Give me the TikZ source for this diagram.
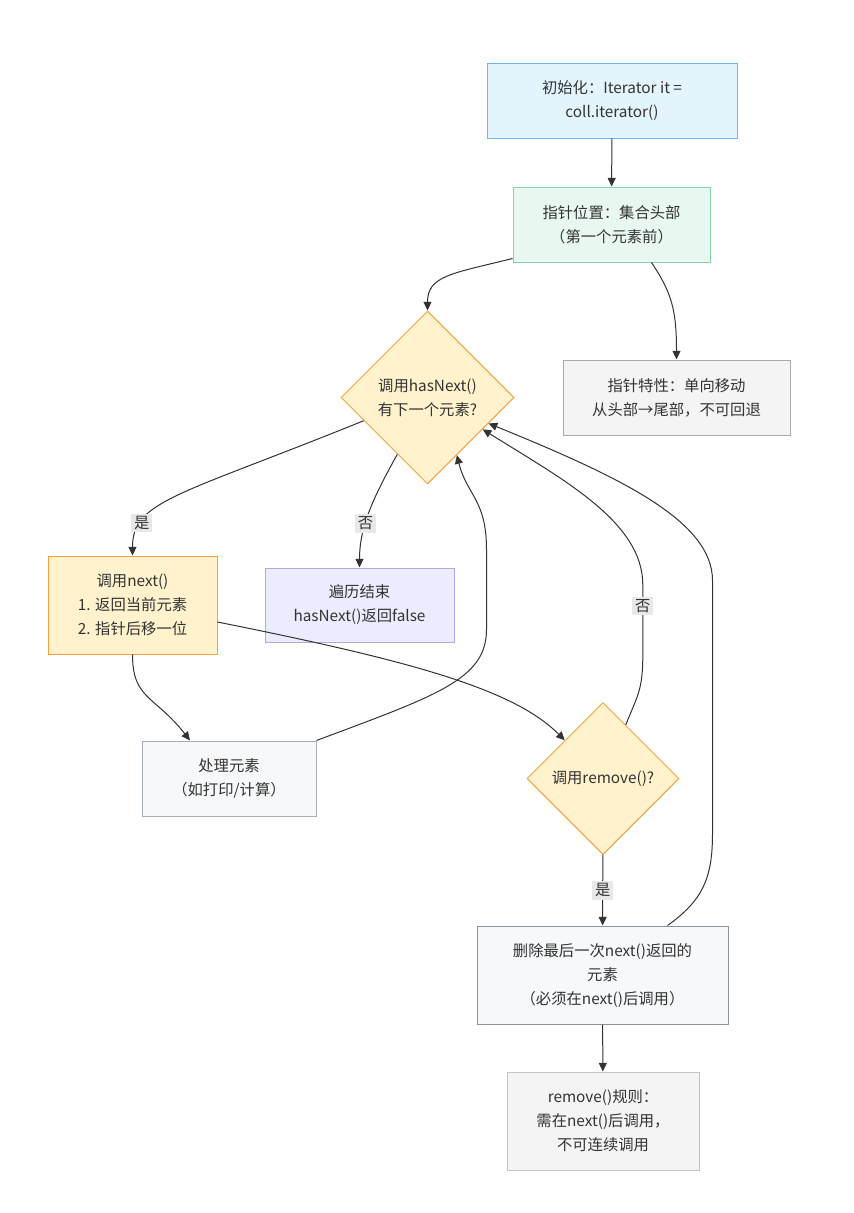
\documentclass[tikz,border=0pt]{standalone}
\usepackage{fontspec}
\setmainfont{Noto Sans CJK SC}
\usetikzlibrary{shapes.geometric,arrows.meta}

\newdimen\pxu \pxu=0.75pt
\definecolor{txt}{HTML}{333333}
\definecolor{edge}{HTML}{333333}
\definecolor{initfill}{HTML}{E3F4FD}
\definecolor{initline}{HTML}{6CB8EE}
\definecolor{posfill}{HTML}{E8F8F0}
\definecolor{posline}{HTML}{88D4A8}
\definecolor{yel}{HTML}{FFF2CC}
\definecolor{orng}{HTML}{F5A142}
\definecolor{greyfill}{HTML}{F4F4F4}
\definecolor{greyline}{HTML}{AAAAAA}
\definecolor{ruleline}{HTML}{C4C4C4}
\definecolor{overfill}{HTML}{ECECFF}
\definecolor{overline}{HTML}{B9A6EA}
\definecolor{procfill}{HTML}{F6F8FA}
\definecolor{procline}{HTML}{A6AEB6}
\definecolor{delline}{HTML}{8C949C}
\definecolor{lblbg}{HTML}{E8E8E8}

\begin{document}
\begin{tikzpicture}
  [x=0.75pt, y=-0.75pt, font=\fontsize{11.5}{18}\selectfont, text=txt,
   box/.style={draw, line width=0.75pt, align=center, inner sep=0pt},
   decision/.style={diamond, aspect=1, draw=orng, fill=yel, line width=0.75pt,
                    align=center, inner sep=0pt},
   lbl/.style={fill=lblbg, inner sep=2pt, text=txt},
   arr/.style={draw=edge, line width=0.75pt, -{Triangle[length=6.5pt,width=6pt]}}]
  \useasboundingbox (0,0) rectangle (853,1213);

  \node[box, fill=initfill, draw=initline, minimum width=250\pxu, minimum height=74\pxu]
    (init) at (612,101) {初始化：Iterator it =\\coll.iterator()};
  \node[box, fill=posfill, draw=posline, minimum width=197\pxu, minimum height=75\pxu]
    (pos) at (611.5,224.5) {指针位置：集合头部\\（第一个元素前）};
  \node[decision, minimum width=173\pxu, minimum height=173\pxu]
    (hasnext) at (427.5,397.5) {调用hasNext()\\有下一个元素?};
  \node[box, fill=greyfill, draw=greyline, minimum width=227\pxu, minimum height=75\pxu]
    (prop) at (676.5,397.5) {指针特性：单向移动\\从头部→尾部，不可回退};
  \node[box, fill=yel, draw=orng, minimum width=169\pxu, minimum height=98\pxu]
    (next) at (132.5,605) {调用next()\\1. 返回当前元素\\2. 指针后移一位};
  \node[box, fill=overfill, draw=overline, minimum width=189\pxu, minimum height=74\pxu]
    (over) at (359.5,605) {遍历结束\\hasNext()返回false};
  \node[box, fill=procfill, draw=procline, minimum width=174\pxu, minimum height=75\pxu]
    (proc) at (229,778.5) {处理元素\\（如打印/计算）};
  \node[decision, minimum width=152\pxu, minimum height=152\pxu]
    (remove) at (603,778.5) {调用remove()?};
  \node[box, fill=procfill, draw=delline, minimum width=251\pxu, minimum height=98\pxu]
    (del) at (602.5,975) {删除最后一次next()返回的\\元素\\（必须在next()后调用）};
  \node[box, fill=greyfill, draw=ruleline, minimum width=192\pxu, minimum height=98\pxu]
    (rule) at (603,1121) {remove()规则：\\需在next()后调用，\\不可连续调用};

  % edges
  \draw[arr] (init) -- (pos);
  \draw[arr] ([yshift=3pt]pos.south west) .. controls +(-60,15) and +(0,-35) .. (hasnext.north);
  \draw[arr] ([xshift=40\pxu]pos.south) .. controls +(20,30) and +(0,-50) .. (prop.north);
  \draw[arr] (hasnext.200) .. controls +(-185,75) and +(0,-55) .. (next.north)
    node[lbl, pos=0.76] (yes1) {是};
  \draw[arr] (hasnext.242) .. controls +(-25,45) and +(0,-40) .. (over.north)
    node[lbl, pos=0.6] (no1) {否};
  \draw[arr] (next.south) .. controls +(0,45) and +(-35,-45) .. ([xshift=-39\pxu]proc.north);
  \draw[arr] (proc.north east) .. controls +(120,-45) and +(0,50) .. ++(170,-111)
    -- ++(0,-80) .. controls +(0,-50) and +(10,40) .. (hasnext.297);
  \draw[arr] ([yshift=-17\pxu]next.east) .. controls +(200,40) and +(-50,-50) .. (remove.north west);
  \draw[arr] (remove.67) .. controls +(12,-30) and +(0,35) .. ++(17,-70)
    -- ++(0,-70) node[lbl, pos=0.7] (no2) {否}
    .. controls +(0,-63) and +(80,50) .. (hasnext.330);
  \draw[arr] (remove) -- (del) node[lbl, midway] (yes2) {是};
  \draw[arr] ([xshift=65\pxu]del.north) .. controls +(35,-25) and +(0,45) .. ++(45,-92)
    -- ++(0,-253) .. controls +(0,-60) and +(130,53) .. (hasnext.337);
  \draw[arr] (del) -- (rule);
\end{tikzpicture}
\end{document}
